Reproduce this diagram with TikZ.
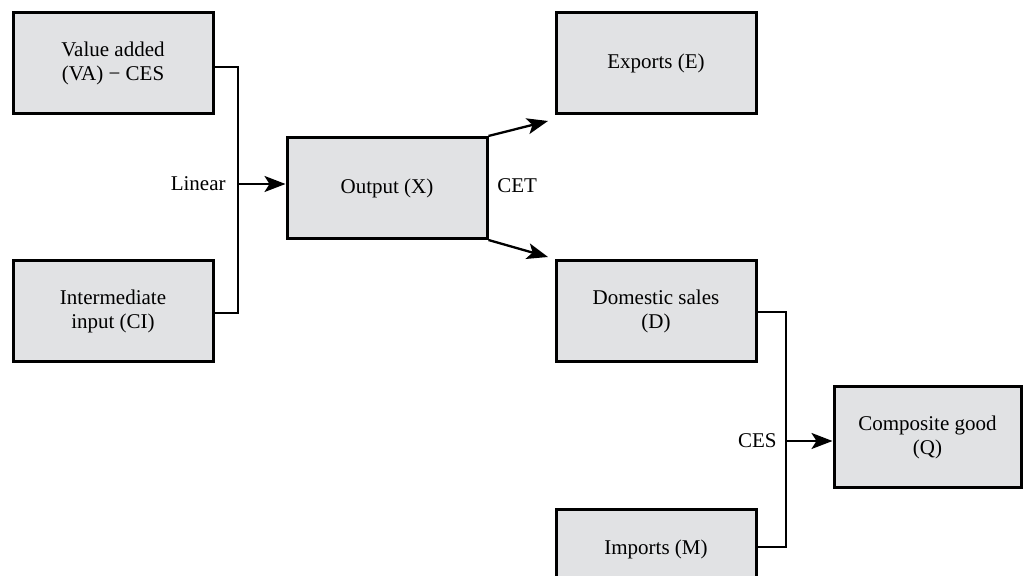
\documentclass[tikz,border=0pt]{standalone}
\usepackage{fontspec}
\setmainfont{Liberation Serif}
\usetikzlibrary{arrows.meta}
\definecolor{boxgray}{RGB}{225,226,228}
\tikzset{
  box/.style={draw=black, fill=boxgray, line width=1.5pt, rectangle,
    minimum width=100pt, minimum height=50.5pt, inner sep=2pt,
    align=center, font=\fontsize{10.5}{12}\selectfont},
  lbl/.style={font=\fontsize{10.5}{12}\selectfont, inner sep=0pt},
  conn/.style={line width=1.15pt, line join=miter},
  arr/.style={conn, -{Stealth[length=10.5pt,width=8pt,inset=2.5pt]}}
}
\begin{document}
\begin{tikzpicture}[x=0.5pt,y=-0.5pt]
\clip (0,0) rectangle (1023,576);
\fill[white] (0,0) rectangle (1023,576);
% boxes
\node[box] (va) at (113,63.5) {Value added\\(VA) − CES};
\node[box] (ci) at (113,311.5) {Intermediate\\input (CI)};
\node[box] (out) at (387,188) {Output (X)};
\node[box] (ex) at (656,63.5) {Exports (E)};
\node[box] (dom) at (656,311.5) {Domestic sales\\(D)};
\node[box, minimum width=93.5pt] (comp) at (927.5,437.5) {Composite good\\(Q)};
\node[box, label={[lbl, yshift=5.75pt]center:Imports (M)}] (imp) at (656,560.5) {};
% junctions and free ends
\coordinate (j1) at (238,184);
\coordinate (j2) at (786,441);
\coordinate (e1) at (548,121);
\coordinate (e2) at (548,257);
% connectors
\draw[conn] ([yshift=-1.75pt]va.east) -| (j1) |- ([yshift=-0.75pt]ci.east);
\draw[arr] (j1) -- (out.west |- j1);
\node[lbl, anchor=east] (linear) at (226,184) {Linear};
\draw[arr] (out.north east) -- (e1);
\draw[arr] (out.south east) -- (e2);
\node[lbl, anchor=west] (cet) at (497,186) {CET};
\draw[conn] ([yshift=-0.25pt]dom.east) -| (j2) |- ([yshift=6.75pt]imp.east);
\draw[arr] (j2) -- (comp.west |- j2);
\node[lbl, anchor=east] (ces) at (777,441) {CES};
\end{tikzpicture}
\end{document}
